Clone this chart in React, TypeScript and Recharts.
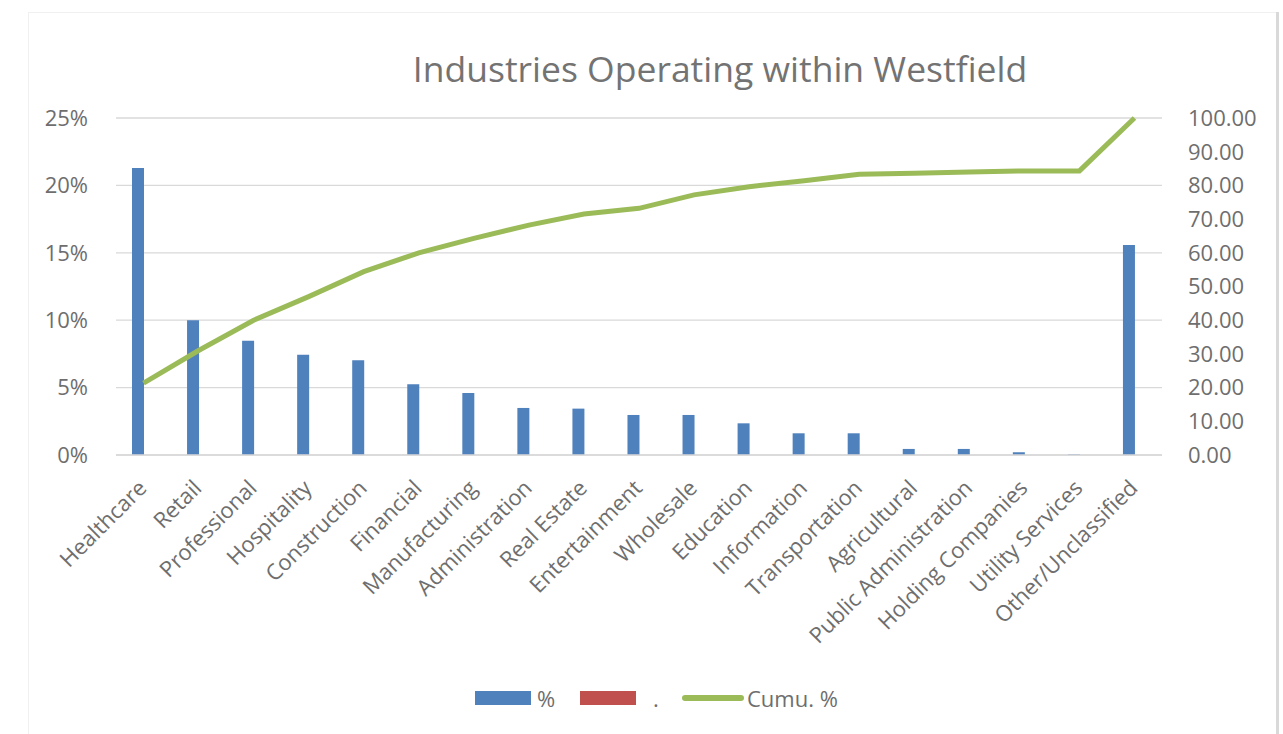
import { ComposedChart, Bar, Line, XAxis, YAxis, CartesianGrid } from 'recharts'

const categories = [
  'Healthcare', 'Retail', 'Professional', 'Hospitality', 'Construction', 'Financial',
  'Manufacturing', 'Administration', 'Real Estate', 'Entertainment', 'Wholesale',
  'Education', 'Information', 'Transportation', 'Agricultural', 'Public Administration',
  'Holding Companies', 'Utility Services', 'Other/Unclassified',
]
const pct = [21.3, 10.0, 8.48, 7.44, 7.02, 5.24, 4.6, 3.49, 3.44, 2.97, 2.97, 2.35, 1.61, 1.61, 0.45, 0.45, 0.2, 0.05, 15.58]
const dot: (number | null)[] = categories.map(() => null)
const cumu = [21.3, 31.0, 40.0, 47.0, 54.4, 60.0, 64.3, 68.2, 71.5, 73.2, 77.2, 79.6, 81.4, 83.3, 83.6, 84.0, 84.3, 84.3, 100]
const leftTicks = [0, 5, 10, 15, 20, 25]
const rightTicks = [0, 10, 20, 30, 40, 50, 60, 70, 80, 90, 100]

const data = categories.map((name, i) => ({ name, pct: pct[i], dot: dot[i], cumu: cumu[i] }))

const FONT = '"Open Sans", sans-serif'
const TEXT = '#6e6e6e'
const BLUE = '#4f81bd'
const RED = '#c0504d'
const GREEN = '#9bbb59'

function CategoryTick(props: any) {
  const { x, y, payload } = props
  return (
    <g transform={`translate(${x - 1},${y + 21})`}>
      <text textAnchor="end" dy="0.35em" transform="rotate(-45)" fill={TEXT} fontSize={22} fontFamily={FONT}>
        {payload.value}
      </text>
    </g>
  )
}

export default function App() {
  return (
    <div style={{ position: 'absolute', left: 0, top: 0, width: 1283, height: 734, background: '#fff', overflow: 'hidden' }}>
      <div style={{ position: 'absolute', left: 28, top: 12, width: 1248, height: 740, borderTop: '1px solid #f0f0f0', borderLeft: '1px solid #f0f0f0' }} />
      <div style={{ position: 'absolute', left: 1276, top: 12, width: 3, height: 740, background: '#d9d9d9' }} />
      <div style={{ position: 'absolute', left: 0, top: 44, width: 1440, textAlign: 'center', fontFamily: FONT, fontSize: 35.5, color: '#737373' }}>
        Industries Operating within Westfield
      </div>
      <ComposedChart width={1283} height={734} data={data} margin={{ top: 118, right: 0, bottom: 0, left: 0 }} barGap={0} style={{ position: 'absolute', left: 0, top: 0 }}>
        <CartesianGrid vertical={false} stroke="#d9d9d9" strokeWidth={1.3} yAxisId="left" />
        <XAxis dataKey="name" interval={0} tickLine={false} axisLine={{ stroke: '#d9d9d9', strokeWidth: 1.3 }} height={279} tick={<CategoryTick />} />
        <YAxis yAxisId="left" domain={[0, 25]} ticks={leftTicks} width={116} tickLine={false} axisLine={false} tickMargin={22}
          tickFormatter={(v: number) => `${v}%`} tick={{ fill: TEXT, fontSize: 22, fontFamily: FONT }} />
        <YAxis yAxisId="right" orientation="right" domain={[0, 100]} ticks={rightTicks} width={121} tickLine={false} axisLine={false} tickMargin={20}
          tickFormatter={(v: number) => v.toFixed(2)} tick={{ fill: TEXT, fontSize: 22, fontFamily: FONT }} />
        <Bar yAxisId="left" dataKey="pct" fill={BLUE} barSize={12} isAnimationActive={false} />
        <Bar yAxisId="left" dataKey="dot" fill={RED} barSize={12} isAnimationActive={false} />
        <Line yAxisId="right" dataKey="cumu" type="linear" stroke={GREEN} strokeWidth={5} dot={false} isAnimationActive={false} />
      </ComposedChart>
      <div style={{ position: 'absolute', left: 475, top: 691, width: 56, height: 14, background: BLUE }} />
      <div style={{ position: 'absolute', left: 537, top: 683, fontFamily: FONT, fontSize: 22, color: TEXT }}>%</div>
      <div style={{ position: 'absolute', left: 580, top: 691, width: 56, height: 14, background: RED }} />
      <div style={{ position: 'absolute', left: 653, top: 683, fontFamily: FONT, fontSize: 22, color: TEXT }}>.</div>
      <div style={{ position: 'absolute', left: 682, top: 695, width: 62, height: 6, borderRadius: 3, background: GREEN }} />
      <div style={{ position: 'absolute', left: 747, top: 683, fontFamily: FONT, fontSize: 22, color: TEXT }}>Cumu. %</div>
    </div>
  )
}
